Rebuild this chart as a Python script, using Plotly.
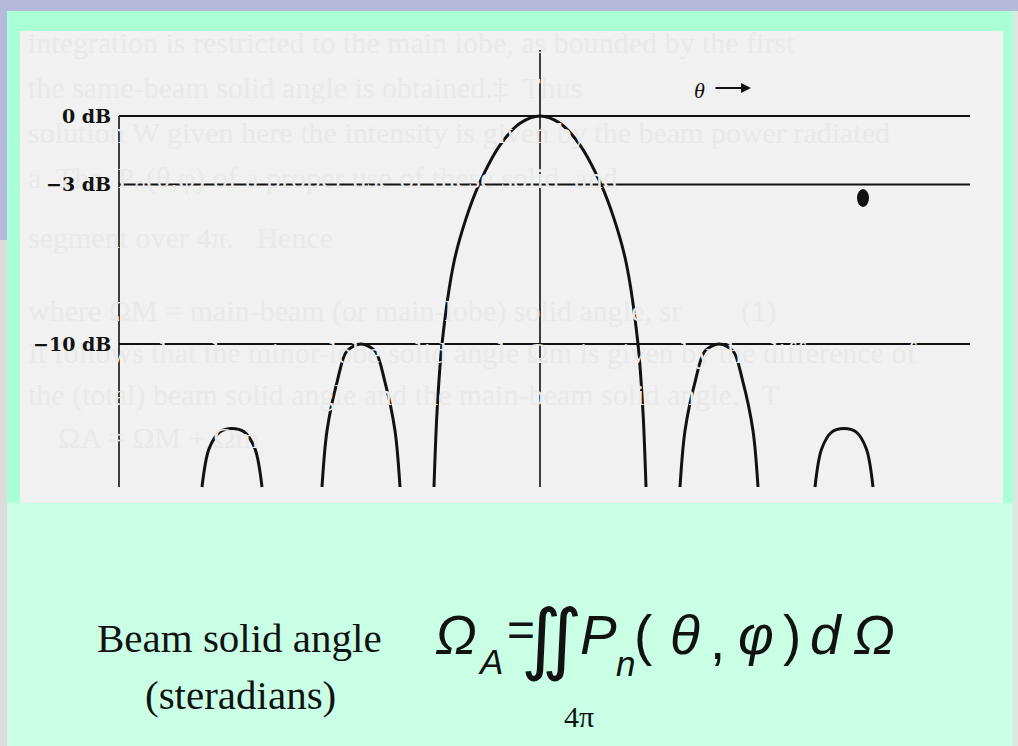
import plotly.graph_objects as go

W, H = 1018, 746

# ---- radiation pattern (angle in arbitrary units, relative power in dB) ----
level_db = [0, -3, -10]
level_labels = ["0 dB", "−3 dB", "−10 dB"]
floor_db = -16.27          # lower edge of the pattern drawing
axis_theta = -21.05        # position of the vertical dB axis
line_end_theta = 21.5      # right end of the reference level lines
center_top_db = 2.9        # top of the boresight line

main_theta = [-5.3, -5.15, -4.9, -4.3, -3.7, -3.05, -2.0, -1.0, 0.0, 1.0, 2.0, 3.05, 3.7, 4.3, 4.9, 5.15, 5.3]
main_db = [-16.27, -13.0, -10.0, -6.4, -4.5, -3.0, -1.28, -0.32, 0.0,
           -0.32, -1.28, -3.0, -4.5, -6.4, -10.0, -13.0, -16.27]

side_l1_theta = [-10.9, -10.65, -10.13, -9.65, -8.95, -8.25, -7.77, -7.25, -7.0]
side_l1_db = [-16.27, -13.8, -11.6, -10.3, -10.0, -10.3, -11.6, -13.8, -16.27]

side_r1_theta = [7.0, 7.25, 7.77, 8.25, 8.95, 9.65, 10.13, 10.65, 10.9]
side_r1_db = [-16.27, -13.8, -11.6, -10.3, -10.0, -10.3, -11.6, -13.8, -16.27]

side_l2_theta = [-16.9, -16.55, -16.0, -15.4, -14.8, -14.25, -13.9]
side_l2_db = [-16.27, -14.6, -13.85, -13.7, -13.85, -14.6, -16.27]

side_r2_theta = [13.75, 14.08, 14.6, 15.2, 15.8, 16.32, 16.65]
side_r2_db = [-16.27, -14.6, -13.85, -13.7, -13.85, -14.6, -16.27]

lobes = [
    (main_theta, main_db),
    (side_l1_theta, side_l1_db),
    (side_r1_theta, side_r1_db),
    (side_l2_theta, side_l2_db),
    (side_r2_theta, side_r2_db),
]

# faint text showing through the scanned page
page_lines = [
    "integration is restricted to the main lobe, as bounded by the first",
    "the same-beam solid angle is obtained.‡  Thus",
    "solution W given here the intensity is given by the beam power radiated",
    "a  The  Pₙ(θ,φ) of a proper use of these solid  and",
    "segment over 4π.   Hence",
    "where ΩM = main-beam (or main-lobe) solid angle, sr        (1)",
    "It follows that the minor-lobe solid angle Ωm is given by the difference of",
    "the (total) beam solid angle and the main-beam solid angle.   T",
    "    ΩA = ΩM + Ωm",
]
page_line_y = [45, 90, 135, 180, 240, 313, 355, 397, 440]

LAVENDER = "#b6bada"
MINT = "#a9ffd6"
MINT_LIGHT = "#c9ffe5"
PAPER = "#f1f1f1"
INK = "#121212"


def px(x):
    return x / W


def py(y):
    return 1 - y / H


fig = go.Figure()

# page bleed-through text, clipped to the scanned sheet
fig.add_trace(go.Scatter(
    x=[28] * len(page_lines), y=page_line_y, mode="text", text=page_lines,
    textposition="middle right", cliponaxis=True,
    textfont=dict(family="Liberation Serif", size=30, color="#e9e9e9"),
    xaxis="x2", yaxis="y2", hoverinfo="skip", showlegend=False,
))

line_style = dict(color=INK, width=2)

# reference level lines
for lv in level_db:
    fig.add_trace(go.Scatter(x=[axis_theta, line_end_theta], y=[lv, lv], mode="lines",
                             line=line_style, hoverinfo="skip", showlegend=False))

# dB axis and boresight line
fig.add_trace(go.Scatter(x=[axis_theta, axis_theta], y=[level_db[0], floor_db], mode="lines",
                         line=dict(color=INK, width=1.6), hoverinfo="skip", showlegend=False))
fig.add_trace(go.Scatter(x=[0, 0], y=[center_top_db, floor_db], mode="lines",
                         line=dict(color=INK, width=1.6), hoverinfo="skip", showlegend=False))

# pattern lobes
for th, db in lobes:
    fig.add_trace(go.Scatter(x=th, y=db, mode="lines",
                             line=dict(color=INK, width=3, shape="spline", smoothing=0.9),
                             hoverinfo="skip", showlegend=False))

annotations = []
for lv, lab in zip(level_db, level_labels):
    annotations.append(dict(x=axis_theta, y=lv, xref="x", yref="y", text=lab, showarrow=False,
                            xanchor="right", yanchor="middle", xshift=-6,
                            font=dict(family="DejaVu Serif", size=19, color=INK, weight="bold")))

# theta direction marker
annotations.append(dict(x=px(699), y=py(91), xref="paper", yref="paper", text="<i>θ</i>",
                        showarrow=False, xanchor="center", yanchor="middle",
                        font=dict(family="Liberation Serif", size=22, color=INK)))
annotations.append(dict(x=px(751), y=py(88), xref="paper", yref="paper", text="", showarrow=True,
                        ax=-37, ay=0, arrowhead=2, arrowsize=1, arrowwidth=2, arrowcolor=INK))

# caption and formula
serif = "Liberation Serif"
sans = "Liberation Sans, Arial"
annotations.append(dict(x=px(95), y=py(638), xref="paper", yref="paper", text="Beam solid angle",
                        showarrow=False, xanchor="left", yanchor="middle",
                        font=dict(family=serif, size=41, color=INK)))
annotations.append(dict(x=px(240), y=py(695), xref="paper", yref="paper", text="(steradians)",
                        showarrow=False, xanchor="center", yanchor="middle",
                        font=dict(family=serif, size=41, color=INK)))

formula = [
    ("<i>Ω</i>", 456, 635, 55, sans),
    ("<i>A</i>", 490, 661, 35, sans),
    ("=", 521, 629, 48, sans),
    ("∬", 552, 638, 78, "DejaVu Sans"),
    ("<i>P</i>", 598, 635, 55, sans),
    ("<i>n</i>", 625, 663, 35, sans),
    ("(", 643, 635, 55, sans),
    ("<i>θ</i>", 685, 635, 55, sans),
    (",", 717, 640, 55, sans),
    ("<i>φ</i>", 756, 635, 55, sans),
    (")", 792, 635, 55, sans),
    ("<i>d</i>", 826, 635, 55, sans),
    ("<i>Ω</i>", 874, 635, 55, sans),
]
for txt, x, y, size, fam in formula:
    annotations.append(dict(x=px(x), y=py(y), xref="paper", yref="paper", text=txt, showarrow=False,
                            xanchor="center", yanchor="middle",
                            font=dict(family=fam, size=size, color=INK)))
annotations.append(dict(x=px(579), y=py(716), xref="paper", yref="paper", text="4π", showarrow=False,
                        xanchor="center", yanchor="middle",
                        font=dict(family=serif, size=30, color=INK)))

# slide background, border panels and scanned sheet
shapes = [
    dict(type="rect", xref="paper", yref="paper", x0=0, x1=px(7), y0=0, y1=py(240),
         fillcolor="#dcdcdc", line_width=0, layer="below"),
    dict(type="rect", xref="paper", yref="paper", x0=px(1013), x1=1, y0=0, y1=py(11),
         fillcolor="#dfe6e2", line_width=0, layer="below"),
    dict(type="rect", xref="paper", yref="paper", x0=px(7), x1=px(1013), y0=0, y1=py(11),
         fillcolor=MINT, line_width=0, layer="below"),
    dict(type="rect", xref="paper", yref="paper", x0=px(7), x1=px(1013), y0=0, y1=py(503),
         fillcolor=MINT_LIGHT, line_width=0, layer="below"),
    dict(type="rect", xref="paper", yref="paper", x0=px(20), x1=px(1003), y0=py(503), y1=py(31),
         fillcolor=PAPER, line_width=0, layer="below"),
    # ink blot on the sheet
    dict(type="circle", xref="paper", yref="paper", x0=px(857), x1=px(869), y0=py(207), y1=py(189),
         fillcolor=INK, line_width=0, layer="below"),
]

fig.update_layout(
    width=W, height=H, autosize=False,
    margin=dict(l=0, r=0, t=0, b=0, pad=0),
    paper_bgcolor=LAVENDER, plot_bgcolor="rgba(0,0,0,0)",
    showlegend=False,
    xaxis=dict(range=[-27.0, 23.9], domain=[0, 1], visible=False, fixedrange=True),
    yaxis=dict(range=[-27.63, 5.09], domain=[0, 1], visible=False, fixedrange=True),
    xaxis2=dict(range=[20, 1003], domain=[px(20), px(1003)], visible=False, anchor="y2"),
    yaxis2=dict(range=[503, 31], domain=[py(503), py(31)], visible=False, anchor="x2"),
    shapes=shapes,
    annotations=annotations,
)

fig.write_html("out.html")
